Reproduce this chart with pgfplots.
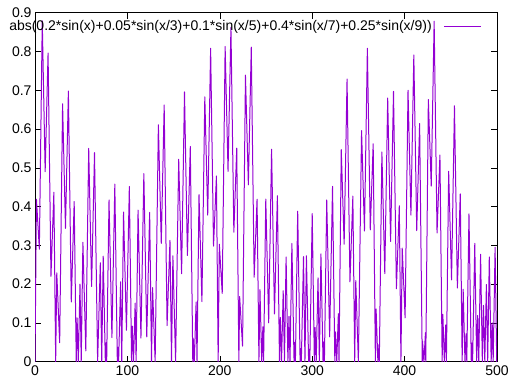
\documentclass[border=0pt]{standalone}
\usepackage{fontspec}
\setmainfont{Liberation Sans}
\usepackage{pgfplots}
\pgfplotsset{compat=1.18}
\definecolor{gpviolet}{RGB}{148,0,211}
\begin{document}
\begin{tikzpicture}
\path[use as bounding box] (0pt,0pt) rectangle (512pt,390pt);
\begin{axis}[
  at={(35pt,28.3pt)}, anchor=south west,
  scale only axis, width=462pt, height=349pt,
  xmin=0, xmax=500, ymin=0, ymax=0.9,
  xtick={0,100,200,300,400,500},
  ytick={0,0.1,0.2,0.3,0.4,0.5,0.6,0.7,0.8,0.9},
  tick align=inside, major tick length=6pt,
  tick style={black, line width=0.6pt},
  axis line style={black, line width=0.8pt},
  ticklabel style={font=\fontsize{14}{16}\selectfont},
  /pgf/number format/assume math mode=true,
  yticklabel style={/pgf/number format/fixed},
  legend style={draw=none, fill=none, at={(axis description cs:0.9675,0.961)}, anchor=east,
    inner sep=0pt, column sep=12pt, nodes={inner sep=0pt, font=\fontsize{14}{16}\selectfont}},
  legend plot pos=right,
  legend image code/.code={\draw[gpviolet, line width=1pt] (0pt,0pt) -- (37pt,0pt);},
]
\addplot[color=gpviolet, line width=1pt, line join=round] coordinates {
(0,0) (1.57,0.419) (4.71,0.290) (7.85,0.879) (11.00,0.490) (14.14,0.796) (17.28,0.220) (20.42,0.437) (22.38,0)
(23.56,0.229) (26.70,0.049) (29.85,0.665) (32.99,0.344) (36.13,0.698) (39.27,0.154) (42.41,0.413) (44.65,0)
(45.55,0.113) (46.86,0) (48.69,0.200) (50.03,0) (51.84,0.308) (54.98,0.028) (58.12,0.550) (61.26,0.194)
(64.40,0.539) (67.77,0) (70.69,0.255) (72.22,0) (73.83,0.272) (76.11,0) (76.97,0.049) (77.57,0)
(80.11,0.417) (83.25,0.062) (86.39,0.458) (89.09,0) (89.54,0.037) (90.49,0) (92.68,0.206) (93.89,0)
(95.82,0.386) (98.96,0.081) (102.10,0.452) (104.49,0) (105.24,0.092) (106.61,0) (108.38,0.151) (109.43,0)
(111.53,0.391) (114.67,0.061) (117.81,0.485) (120.95,0.064) (124.09,0.385) (126.08,0) (127.23,0.191) (130.03,0)
(133.52,0.611) (136.66,0.305) (139.80,0.662) (142.94,0.093) (146.08,0.313) (147.73,0) (149.23,0.273) (152.17,0)
(155.51,0.522) (158.65,0.227) (161.79,0.696) (164.93,0.274) (168.07,0.555) (170.76,0) (171.22,0.060) (172.42,0)
(174.36,0.154) (175.35,0) (177.50,0.431) (180.64,0.155) (183.78,0.683) (186.92,0.378) (190.07,0.808) (193.21,0.298)
(196.35,0.479) (198.22,0) (199.49,0.303) (202.63,0.176) (205.77,0.813) (208.92,0.491) (212.06,0.862) (215.20,0.334)
(218.34,0.551) (220.63,0) (221.48,0.168) (224.62,0.040) (227.77,0.739) (230.91,0.456) (234.05,0.811) (237.19,0.218)
(240.33,0.419) (242.35,0) (243.47,0.186) (245.35,0) (246.62,0.090) (247.41,0) (249.76,0.419) (252.90,0.100)
(256.04,0.548) (259.18,0.123) (262.32,0.428) (264.58,0) (265.46,0.114) (266.82,0) (268.61,0.183) (269.97,0)
(271.75,0.270) (273.72,0) (274.89,0.117) (275.99,0) (278.03,0.305) (280.37,0) (281.17,0.050) (281.83,0)
(284.31,0.388) (286.91,0) (287.46,0.034) (288.24,0) (290.60,0.271) (292.16,0) (293.74,0.273) (296.12,0)
(296.88,0.032) (297.42,0) (300.02,0.382) (302.32,0) (303.16,0.088) (304.34,0) (306.31,0.216) (307.74,0)
(309.45,0.278) (311.72,0) (312.59,0.051) (313.21,0) (315.73,0.417) (318.87,0.064) (322.01,0.452) (324.48,0)
(325.16,0.077) (326.57,0) (328.30,0.124) (329.03,0) (331.44,0.547) (334.58,0.303) (337.72,0.729) (340.86,0.206)
(344.00,0.427) (345.99,0) (347.15,0.209) (349.97,0) (353.43,0.596) (356.57,0.337) (359.71,0.808) (362.85,0.340)
(366.00,0.562) (368.38,0) (369.14,0.136) (371.08,0) (372.28,0.044) (372.64,0) (375.42,0.541) (378.56,0.227)
(381.70,0.680) (384.85,0.310) (387.99,0.697) (391.13,0.188) (394.27,0.402) (396.04,0) (397.41,0.293) (400.55,0.113)
(403.70,0.700) (406.84,0.378) (409.98,0.791) (413.12,0.338) (416.26,0.614) (419.10,0) (419.40,0.053) (420.89,0)
(422.54,0.075) (422.91,0) (425.69,0.676) (428.83,0.453) (431.97,0.878) (435.11,0.332) (438.25,0.533) (440.64,0)
(441.39,0.122) (443.05,0) (444.54,0.095) (445.24,0) (447.68,0.491) (450.82,0.211) (453.96,0.660) (457.10,0.190)
(460.24,0.433) (462.29,0) (463.39,0.187) (465.33,0) (466.53,0.072) (467.30,0) (469.67,0.381) (472.16,0)
(472.81,0.048) (473.60,0) (475.95,0.305) (477.99,0) (479.09,0.119) (480.26,0) (482.24,0.277) (484.13,0)
(485.38,0.145) (486.80,0) (488.52,0.199) (489.93,0) (491.66,0.270) (493.69,0) (494.80,0.100) (495.86,0)
(497.94,0.295) (499.70,0) (500,0.067)
};
\addlegendentry{abs(0.2*sin(x)+0.05*sin(x/3)+0.1*sin(x/5)+0.4*sin(x/7)+0.25*sin(x/9))}
\end{axis}
\end{tikzpicture}
\end{document}
